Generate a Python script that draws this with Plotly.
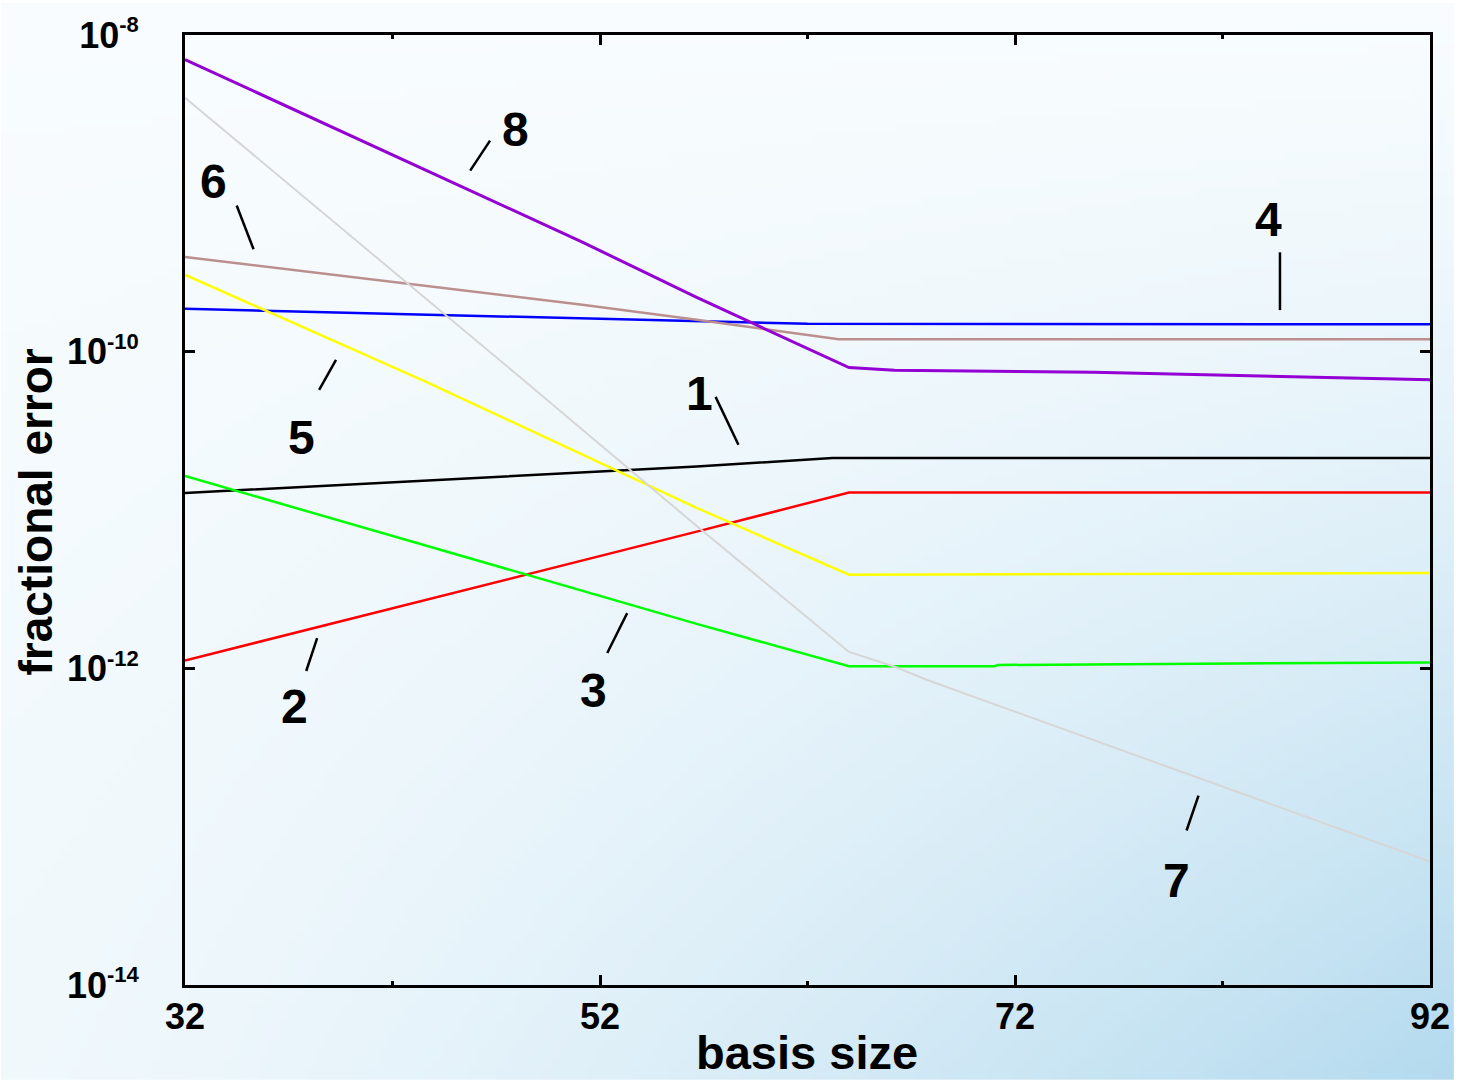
import zlib, struct, base64
import plotly.graph_objects as go

# ---------------- data ----------------
x_purple = [32, 51.15, 56.66, 64, 66.2, 75.8, 92]
y_purple = [7.0e-9, 4.92e-10, 2.20e-10, 7.93e-11, 7.62e-11, 7.41e-11, 6.64e-11]

x_grey = [32, 48.28, 56.66, 64, 66.24, 67.8, 92]
y_grey = [4.02e-9, 6.67e-11, 7.93e-12, 1.27e-12, 1.02e-12, 8.41e-13, 6.03e-14]

x_brown = [32, 51.15, 56.66, 63.5, 92]
y_brown = [3.96e-10, 1.98e-10, 1.59e-10, 1.20e-10, 1.20e-10]

x_blue = [32, 51.15, 56.66, 62, 92]
y_blue = [1.865e-10, 1.62e-10, 1.57e-10, 1.50e-10, 1.49e-10]

x_yellow = [32, 43.49, 56.66, 64, 92]
y_yellow = [3.06e-10, 6.57e-11, 1.03e-11, 3.90e-12, 4.00e-12]

x_black = [32, 56.66, 63.2, 92]
y_black = [1.28e-11, 1.88e-11, 2.13e-11, 2.13e-11]

x_red = [32, 56.66, 64, 92]
y_red = [1.12e-12, 7.30e-12, 1.29e-11, 1.29e-11]

x_green = [32, 56.66, 64, 71, 71.2, 92]
y_green = [1.64e-11, 1.91e-12, 1.03e-12, 1.03e-12, 1.05e-12, 1.09e-12]

series = [
    ("1", x_black, y_black, "#000000", 2.5),
    ("2", x_red, y_red, "#ff0000", 2.5),
    ("3", x_green, y_green, "#00ff00", 2.5),
    ("4", x_blue, y_blue, "#0000ff", 2.5),
    ("5", x_yellow, y_yellow, "#ffff00", 2.5),
    ("6", x_brown, y_brown, "#bc8f8f", 2.5),
    ("7", x_grey, y_grey, "#d6d6d6", 2.0),
    ("8", x_purple, y_purple, "#9400d3", 3.0),
]

x_tickvals = [32, 52, 72, 92]
x_minor_tickvals = [42, 62, 82]
y_tickvals = [1e-14, 1e-12, 1e-10, 1e-8]
y_exponents = ["-14", "-12", "-10", "-8"]
y_ticktext = ['10<sup><span style="font-size:22px">%s</span></sup>' % e for e in y_exponents]

# curve labels: text, label centre (px), leader line (px)
curve_labels = [
    ("8", (518, 127), (472, 168, 492, 138)),
    ("6", (214, 179), (237, 203, 254, 247)),
    ("4", (1275, 217), (1287, 250, 1287, 308)),
    ("1", (703, 392), (719, 395, 742, 443)),
    ("5", (302, 436), (320, 388, 337, 358)),
    ("2", (295, 706), (307, 670, 318, 637)),
    ("3", (596, 690), (610, 652, 630, 612)),
    ("7", (1183, 880), (1193, 830, 1205, 795)),
]

# ---------------- layout geometry ----------------
W, H = 1462, 1080
L, R, T, B = 185, 24, 32, 95
PW, PH = W - L - R, H - T - B


def px2paper(px, py):
    return (px - L) / PW, (H - B - py) / PH


# ---------------- background gradient image ----------------
def png_data_uri(w, h, fn):
    raw = bytearray()
    for j in range(h):
        raw.append(0)
        for i in range(w):
            raw += bytes(fn(i / (w - 1), j / (h - 1)))

    def chunk(tag, data):
        c = struct.pack('>I', len(data)) + tag + data
        return c + struct.pack('>I', zlib.crc32(tag + data) & 0xffffffff)

    png = (b'\x89PNG\r\n\x1a\n'
           + chunk(b'IHDR', struct.pack('>IIBBBBB', w, h, 8, 2, 0, 0, 0))
           + chunk(b'IDAT', zlib.compress(bytes(raw)))
           + chunk(b'IEND', b''))
    return 'data:image/png;base64,' + base64.b64encode(png).decode()


c0 = (248, 252, 254)
c1 = (180, 218, 238)


def grad(u, v):
    f = 0.12 * v + 0.88 * (u * v) ** 1.4
    f = min(1.0, f)
    return tuple(int(round(a + (b - a) * f)) for a, b in zip(c0, c1))


bg_uri = png_data_uri(160, 120, grad)

# ---------------- figure ----------------
fig = go.Figure()
for name, xs, ys, col, lw in series:
    fig.add_trace(go.Scatter(x=xs, y=ys, mode="lines", name=name,
                             line=dict(color=col, width=lw), showlegend=False))

font_family = "Liberation Sans, Arial, sans-serif"

annotations = []
shapes = []
for txt, (cx, cy), (x0, y0, x1, y1) in curve_labels:
    ax, ay = px2paper(cx, cy)
    annotations.append(dict(text=txt, x=ax, y=ay, xref="paper", yref="paper",
                            showarrow=False, xanchor="center", yanchor="middle",
                            font=dict(family=font_family, size=48, color="black", weight="bold")))
    sx0, sy0 = px2paper(x0, y0)
    sx1, sy1 = px2paper(x1, y1)
    shapes.append(dict(type="line", xref="paper", yref="paper", x0=sx0, y0=sy0, x1=sx1, y1=sy1,
                       line=dict(color="black", width=2.5)))

tx, ty = px2paper(36, 510)
annotations.append(dict(text="fractional error", x=tx, y=ty, xref="paper", yref="paper",
                        showarrow=False, textangle=-90, xanchor="center", yanchor="middle",
                        font=dict(family=font_family, size=46, color="black", weight="bold")))
tx, ty = px2paper(811, 1053)
annotations.append(dict(text="basis size", x=tx, y=ty, xref="paper", yref="paper",
                        showarrow=False, xanchor="center", yanchor="middle",
                        font=dict(family=font_family, size=47, color="black", weight="bold")))

fig.update_layout(
    width=W, height=H,
    margin=dict(l=L, r=R, t=T, b=B, pad=0),
    paper_bgcolor="rgba(0,0,0,0)",
    plot_bgcolor="rgba(0,0,0,0)",
    showlegend=False,
    annotations=annotations,
    shapes=shapes,
    images=[dict(source=bg_uri, xref="paper", yref="paper",
                 x=-L / PW, y=(H - B) / PH, sizex=W / PW, sizey=H / PH,
                 xanchor="left", yanchor="top", sizing="stretch", layer="below", opacity=1)],
)

fig.update_xaxes(
    range=[32, 92], tickvals=x_tickvals, ticks="inside", ticklen=10, tickwidth=2.5,
    tickcolor="black", showline=True, linecolor="black", linewidth=3, mirror="allticks",
    showgrid=False, zeroline=False, ticklabelstandoff=-2,
    tickfont=dict(family=font_family, size=36, color="black", weight="bold"),
    minor=dict(tickvals=x_minor_tickvals, ticks="inside", ticklen=4, tickwidth=2.5,
               tickcolor="black", showgrid=False),
)
fig.update_yaxes(
    type="log", range=[-14, -8], tickvals=y_tickvals, ticktext=y_ticktext,
    ticks="inside", ticklen=10, tickwidth=2.5, tickcolor="black",
    showline=True, linecolor="black", linewidth=3, mirror="allticks",
    showgrid=False, zeroline=False, ticklabelstandoff=36,
    tickfont=dict(family=font_family, size=36, color="black", weight="bold"),
)

fig.write_html("out.html")
